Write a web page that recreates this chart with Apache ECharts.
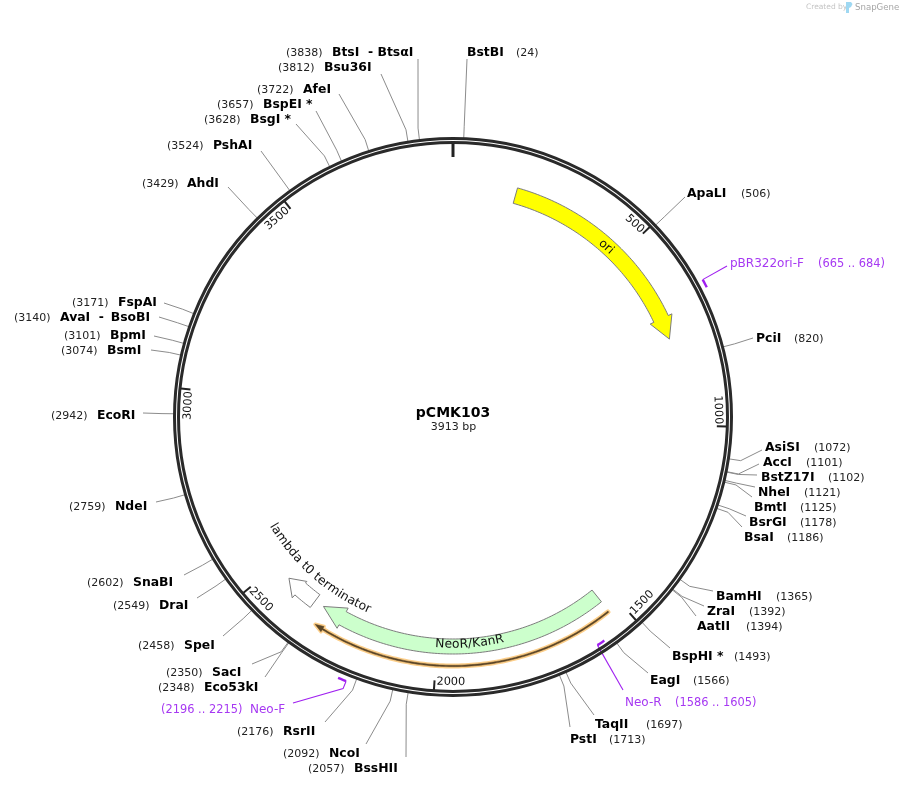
<!DOCTYPE html>
<html>
<head>
    <meta charset="UTF-8">
    <title>pCMK103</title>
    <script type="text/javascript" src="https://cdn.jsdelivr.net/npm/echarts@6/dist/echarts.min.js"></script>
</head>
<style>
    html, body { margin: 0; padding: 0; background: #fff; }
    #charts { width: 903px; height: 786px; }
</style>
<body>
<div id="charts"></div>
<script type="text/javascript">
    // plasmid
    var plasmidName = 'pCMK103';
    var plasmidSize = 3913;
    var sizeLabel = '3913 bp';

    // axis ticks, in bp
    var tickValues = [0, 500, 1000, 1500, 2000, 2500, 3000, 3500];

    // restriction sites
    var siteNames = ['BstBI', 'ApaLI', 'PciI', 'AsiSI', 'AccI', 'BstZ17I', 'NheI', 'BmtI', 'BsrGI', 'BsaI',
        'BamHI', 'ZraI', 'AatII', 'BspHI *', 'EagI', 'TaqII', 'PstI', 'BtsI  - BtsαI', 'Bsu36I', 'AfeI',
        'BspEI *', 'BsgI *', 'PshAI', 'AhdI', 'FspAI', 'AvaI  -\u0020\u2009BsoBI', 'BpmI', 'BsmI', 'EcoRI', 'NdeI',
        'SnaBI', 'DraI', 'SpeI', 'SacI', 'Eco53kI', 'RsrII', 'NcoI', 'BssHII'];
    var sitePositions = [24, 506, 820, 1072, 1101, 1102, 1121, 1125, 1178, 1186,
        1365, 1392, 1394, 1493, 1566, 1697, 1713, 3838, 3812, 3722,
        3657, 3628, 3524, 3429, 3171, 3140, 3101, 3074, 2942, 2759,
        2602, 2549, 2458, 2350, 2348, 2176, 2092, 2057];

    // features
    var featureNames = ['ori', 'NeoR/KanR', 'lambda t0 terminator'];
    var featureStarts = [171, 1535, 2357];
    var featureEnds = [763, 2330, 2451];
    var featureHeads = [704, 2269, 2409];

    // translated ORF drawn under NeoR/KanR
    var orfRange = [1537, 2322];
    var orfHead = 2300;

    // primers
    var primerNames = ['pBR322ori-F', 'Neo-R', 'Neo-F'];
    var primerRanges = ['(665 .. 684)', '(1586 .. 1605)', '(2196 .. 2215)'];
    var primerStarts = [665, 1586, 2196];
    var primerEnds = [684, 1605, 2215];

    // ---- layout, kept apart from the values above ----
    var CX = 453, CY = 417;
    var FONT = '"DejaVu Sans", sans-serif';
    var R_RING_OUT = 278.5, R_RING_IN = 274.5, R_ELBOW = 291;
    var TEXT_DY = 1;

    // nameX, y, posX, leaderEndX, leaderEndY
    var siteLayout = [
        [467, 52, 516, 467, 59], [687, 193, 741, 685, 197], [756, 338, 794, 753, 338],
        [765, 447, 814, 762, 450], [763, 462, 806, 759, 464], [761, 477, 828, 757, 475],
        [758, 492, 804, 755, 487], [754, 507, 800, 752, 497], [749, 522, 800, 746, 516],
        [744, 537, 787, 742, 527], [716, 596, 776, 713, 591], [707, 611, 749, 704, 606],
        [697, 626, 746, 696, 616], [672, 656, 734, 670, 648], [650, 680, 693, 648, 673],
        [595, 724, 646, 594, 715], [570, 739, 609, 570, 727], [332, 52, 286, 418, 59],
        [324, 67, 278, 381, 74], [303, 89, 257, 339, 94], [263, 104, 217, 316, 111],
        [250, 119, 204, 296, 124], [213, 145, 167, 261, 151], [187, 183, 142, 228, 187],
        [118, 302, 72, 164, 303], [60, 317, 14, 159, 317], [110, 335, 64, 154, 336],
        [107, 350, 61, 151, 350], [97, 415, 51, 143, 413], [115, 506, 69, 156, 502],
        [133, 582, 87, 184, 575], [159, 605, 113, 197, 598], [184, 645, 138, 223, 636],
        [212, 672, 166, 252, 664], [204, 687, 158, 265, 677], [283, 731, 237, 325, 722],
        [329, 753, 283, 366, 744], [354, 768, 308, 406, 757]
    ];

    // rIn, rOut, wingIn, wingOut, fill
    var featureLayout = [
        [222, 238, 218, 242, '#ffff00'],
        [222, 237, 218, 241, '#ccffcc'],
        [222, 238, 220, 242, '#ffffff']
    ];

    // track r, elbow r, leaderX, leaderY, nameX, nameY, rangeX, anchor bp index (0 start, 1 end)
    var primerLayout = [
        [285, 285, 727, 266, 730, 263, 818, 0],
        [270, 270, 623, 690, 625, 702, 675, 1],
        [285, 293, 293, 703, 250, 709, 161, 0]
    ];

    var measureCtx = document.createElement('canvas').getContext('2d');

    function bpToDeg(bp) {
        return bp / plasmidSize * 360;
    }

    function degToBp(deg) {
        return deg / 360 * plasmidSize;
    }

    // rotation which keeps text tangent and readable at this clock angle
    function tangentRotation(deg) {
        deg = (deg + 360) % 360;
        var cw = (deg > 90 && deg < 270) ? deg - 180 : deg;
        return -cw * Math.PI / 180;
    }

    function arc(api, r, from, to) {
        var pts = [];
        var n = Math.max(2, Math.ceil(Math.abs(to - from) / 8));
        for (var i = 0; i <= n; i++) {
            pts.push(api.coord([r, from + (to - from) * i / n]).slice(0, 2));
        }
        return pts;
    }

    function arrowShape(api, start, end, head, rIn, rOut, wingIn, wingOut) {
        var pts = arc(api, rOut, start, head);
        pts.push(api.coord([wingOut, head]).slice(0, 2));
        pts.push(api.coord([(rIn + rOut) / 2, end]).slice(0, 2));
        pts.push(api.coord([wingIn, head]).slice(0, 2));
        return pts.concat(arc(api, rIn, head, start));
    }

    function textEl(str, x, y, size, weight, fill, align, rotation) {
        return {
            type: 'text',
            x: x,
            y: y,
            rotation: rotation || 0,
            z2: 10,
            style: {
                text: str,
                x: 0,
                y: 0,
                fill: fill,
                fontFamily: FONT,
                fontSize: size,
                fontWeight: weight,
                align: align || 'left',
                verticalAlign: 'middle'
            }
        };
    }

    // one text per character, following the circle
    function arcText(api, str, r, centerBp, size) {
        measureCtx.font = size + 'px "DejaVu Sans"';
        var total = measureCtx.measureText(str).width;
        var out = [];
        var run = 0;
        for (var i = 0; i < str.length; i++) {
            var w = measureCtx.measureText(str[i]).width;
            var off = run + w / 2 - total / 2;
            var deg = bpToDeg(centerBp) - off / r * 180 / Math.PI;
            var p = api.coord([r, degToBp(deg)]);
            out.push(textEl(str[i], p[0], p[1], size, 'normal', '#111', 'center', tangentRotation(deg)));
            run += w;
        }
        return out;
    }

    var ringSeries = {
        type: 'custom',
        coordinateSystem: 'polar',
        silent: true,
        z: 5,
        data: [[0, 0]],
        renderItem: function (params, api) {
            var c = api.coord([0, 0]);
            return {
                type: 'group',
                children: [R_RING_OUT, R_RING_IN].map(function (r) {
                    return {
                        type: 'circle',
                        shape: { cx: c[0], cy: c[1], r: r },
                        style: { fill: null, stroke: '#2a2a2a', lineWidth: 3 }
                    };
                })
            };
        }
    };

    var tickSeries = {
        type: 'custom',
        coordinateSystem: 'polar',
        silent: true,
        z: 6,
        data: tickValues.map(function (v) { return [v]; }),
        renderItem: function (params, api) {
            var v = api.value(0);
            var first = v === 0;
            var a = api.coord([273.5, v]);
            var b = api.coord([first ? 260 : 264, v]);
            var kids = [{
                type: 'line',
                shape: { x1: a[0], y1: a[1], x2: b[0], y2: b[1] },
                style: { stroke: '#222', lineWidth: first ? 3 : 2 }
            }];
            if (!first) {
                var str = String(v);
                measureCtx.font = '11.3px "DejaVu Sans"';
                var half = measureCtx.measureText(str).width / 2;
                var deg = bpToDeg(v) - (half + 2) / 265 * 180 / Math.PI;
                var p = api.coord([265, degToBp(deg)]);
                kids.push(textEl(str, p[0], p[1], 11.3, 'normal', '#111', 'center', tangentRotation(deg)));
            }
            return { type: 'group', children: kids };
        }
    };

    var siteSeries = {
        type: 'custom',
        coordinateSystem: 'polar',
        silent: true,
        z: 3,
        data: sitePositions.map(function (bp, i) { return [bp, i]; }),
        renderItem: function (params, api) {
            var bp = api.value(0);
            var i = api.value(1);
            var lay = siteLayout[i];
            var a = api.coord([R_RING_OUT, bp]);
            var b = api.coord([R_ELBOW, bp]);
            return {
                type: 'group',
                children: [
                    {
                        type: 'polyline',
                        shape: { points: [[a[0], a[1]], [b[0], b[1]], [lay[3], lay[4]]] },
                        style: { fill: null, stroke: '#8c8c8c', lineWidth: 1 }
                    },
                    textEl(siteNames[i], lay[0], lay[1] + TEXT_DY, 12.4, 'bold', '#000'),
                    textEl('(' + bp + ')', lay[2], lay[1] + TEXT_DY, 11, 'normal', '#222')
                ]
            };
        }
    };

    var featureSeries = {
        type: 'custom',
        coordinateSystem: 'polar',
        silent: true,
        z: 4,
        data: featureNames.map(function (n, i) { return [featureStarts[i], featureEnds[i], featureHeads[i], i]; }),
        renderItem: function (params, api) {
            var i = api.value(3);
            var lay = featureLayout[i];
            var kids = [{
                type: 'polygon',
                shape: { points: arrowShape(api, api.value(0), api.value(1), api.value(2), lay[0], lay[1], lay[2], lay[3]) },
                style: { fill: lay[4], stroke: '#7d7d7d', lineWidth: 1 }
            }];
            if (i === 0) {
                var deg = 42;
                var p = api.coord([229, degToBp(deg)]);
                kids.push(textEl(featureNames[0], p[0], p[1], 12, 'normal', '#111', 'center', tangentRotation(deg)));
            } else if (i === 1) {
                kids = kids.concat(arcText(api, featureNames[1], 227.5, 1911, 12.3));
            } else {
                kids = kids.concat(arcText(api, featureNames[2], 210, 2405, 12.3));
            }
            return { type: 'group', children: kids };
        }
    };

    var orfSeries = {
        type: 'custom',
        coordinateSystem: 'polar',
        silent: true,
        z: 4,
        data: [[orfRange[0], orfRange[1], orfHead]],
        renderItem: function (params, api) {
            var pts = arrowShape(api, api.value(0), api.value(1), api.value(2), 248.3, 249.7, 246, 252);
            return {
                type: 'group',
                children: [
                    { type: 'polygon', shape: { points: pts }, style: { fill: '#fdcf8a', stroke: '#fdcf8a', lineWidth: 3.6, lineJoin: 'round' } },
                    { type: 'polygon', shape: { points: pts }, style: { fill: '#5a4526', stroke: '#5a4526', lineWidth: 0.5 } }
                ]
            };
        }
    };

    var primerSeries = {
        type: 'custom',
        coordinateSystem: 'polar',
        silent: true,
        z: 3,
        data: primerNames.map(function (n, i) { return [primerStarts[i], primerEnds[i], i]; }),
        renderItem: function (params, api) {
            var i = api.value(2);
            var lay = primerLayout[i];
            var anchor = lay[7] === 0 ? api.value(0) : api.value(1);
            var a = api.coord([lay[0], anchor]);
            var b = api.coord([lay[1], anchor]);
            return {
                type: 'group',
                children: [
                    {
                        type: 'polyline',
                        shape: { points: arc(api, lay[0], api.value(0), api.value(1)) },
                        style: { fill: null, stroke: '#a020f0', lineWidth: 2.4 }
                    },
                    {
                        type: 'polyline',
                        shape: { points: [[a[0], a[1]], [b[0], b[1]], [lay[2], lay[3]]] },
                        style: { fill: null, stroke: '#a020f0', lineWidth: 1.1 }
                    },
                    textEl(primerNames[i], lay[4], lay[5] + TEXT_DY, 12, 'normal', '#a638f2'),
                    textEl(primerRanges[i], lay[6], lay[5] + TEXT_DY, 11.4, 'normal', '#a638f2')
                ]
            };
        }
    };

    var myChart = echarts.init(document.getElementById('charts'));
    var option = {
        animation: false,
        backgroundColor: '#fff',
        polar: { center: [CX, CY], radius: 300 },
        radiusAxis: { min: 0, max: 300, show: false },
        angleAxis: { type: 'value', min: 0, max: plasmidSize, startAngle: 90, clockwise: true, show: false },
        graphic: [
            { type: 'text', x: 453, y: 413, style: { text: plasmidName, fill: '#000', font: 'bold 14px ' + FONT, align: 'center', verticalAlign: 'middle' } },
            { type: 'text', x: 453.5, y: 427.5, style: { text: sizeLabel, fill: '#222', font: '11px ' + FONT, align: 'center', verticalAlign: 'middle' } },
            { type: 'text', x: 806, y: 7.5, style: { text: 'Created by', fill: '#c4c4c4', font: '7.5px ' + FONT, verticalAlign: 'middle' } },
            { type: 'polygon', shape: { points: [[846, 2], [851, 2], [852.5, 4], [851, 7], [849, 8], [849, 13], [846, 13]] }, style: { fill: '#9fd8f2' } },
            { type: 'text', x: 855, y: 7.5, style: { text: 'SnapGene', fill: '#a6a6a6', font: '8.6px ' + FONT, verticalAlign: 'middle' } }
        ],
        series: [siteSeries, primerSeries, featureSeries, orfSeries, ringSeries, tickSeries]
    };
    myChart.setOption(option);
</script>
</body>
</html>
